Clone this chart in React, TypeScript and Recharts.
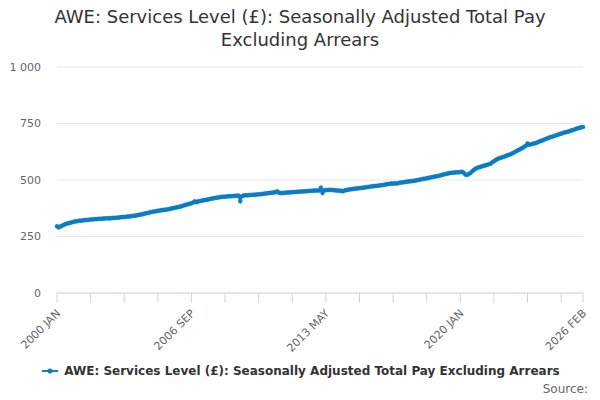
import React from 'react';
import { LineChart, Line, XAxis, YAxis, CartesianGrid } from 'recharts';

const MONTHS = ['JAN', 'FEB', 'MAR', 'APR', 'MAY', 'JUN', 'JUL', 'AUG', 'SEP', 'OCT', 'NOV', 'DEC'];
const FIRST_YEAR = 2000;

// monthly levels (£)
const pay2000 = [295, 290, 294, 298, 301, 305, 307, 309, 311, 313, 315, 317];
const pay2001 = [318, 320, 320, 321, 322, 323, 323, 324, 325, 325, 326, 327];
const pay2002 = [327, 328, 328, 329, 330, 330, 331, 330, 331, 332, 332, 333];
const pay2003 = [333, 334, 335, 336, 336, 337, 338, 339, 340, 341, 342, 343];
const pay2004 = [344, 346, 347, 349, 351, 353, 354, 356, 358, 359, 361, 362];
const pay2005 = [364, 364, 366, 367, 368, 369, 370, 372, 374, 375, 377, 378];
const pay2006 = [380, 382, 384, 386, 389, 391, 393, 395, 397, 400, 406, 402];
const pay2007 = [405, 407, 408, 410, 411, 413, 414, 416, 417, 419, 420, 422];
const pay2008 = [423, 424, 425, 426, 426, 427, 428, 428, 429, 429, 430, 430];
const pay2009 = [431, 406, 428, 431, 432, 432, 433, 434, 434, 435, 435, 436];
const pay2010 = [437, 437, 438, 439, 440, 441, 442, 443, 444, 445, 446, 450];
const pay2011 = [444, 442, 442, 443, 444, 445, 445, 446, 446, 447, 447, 448];
const pay2012 = [448, 449, 449, 450, 450, 451, 451, 452, 452, 453, 453, 453];
const pay2013 = [454, 466, 442, 455, 455, 456, 456, 456, 456, 455, 454, 453];
const pay2014 = [453, 452, 450, 453, 455, 457, 458, 459, 460, 461, 462, 463];
const pay2015 = [464, 465, 466, 467, 468, 469, 470, 471, 472, 473, 474, 475];
const pay2016 = [476, 477, 478, 479, 481, 482, 483, 484, 484, 485, 485, 486];
const pay2017 = [488, 489, 490, 491, 492, 493, 494, 495, 496, 497, 499, 500];
const pay2018 = [502, 503, 505, 506, 508, 509, 511, 512, 514, 515, 517, 518];
const pay2019 = [520, 522, 524, 526, 528, 530, 531, 532, 533, 533, 534, 534];
const pay2020 = [535, 537, 532, 524, 522, 527, 531, 538, 544, 550, 553, 556];
const pay2021 = [558, 561, 563, 565, 567, 570, 572, 578, 583, 588, 592, 596];
const pay2022 = [598, 601, 603, 606, 609, 612, 614, 618, 622, 626, 630, 634];
const pay2023 = [638, 642, 647, 651, 662, 656, 658, 660, 662, 664, 667, 670];
const pay2024 = [673, 676, 679, 682, 685, 688, 690, 692, 695, 698, 700, 703];
const pay2025 = [705, 708, 710, 712, 714, 716, 719, 721, 724, 727, 729, 731];
const pay2026 = [733, 735];

const payByYear = [
  pay2000, pay2001, pay2002, pay2003, pay2004, pay2005, pay2006, pay2007, pay2008,
  pay2009, pay2010, pay2011, pay2012, pay2013, pay2014, pay2015, pay2016, pay2017,
  pay2018, pay2019, pay2020, pay2021, pay2022, pay2023, pay2024, pay2025, pay2026,
];

const yTicks = [0, 250, 500, 750, 1000];
const tickMonths = [0, 20, 40, 60, 80, 100, 120, 140, 160, 180, 200, 220, 240, 260, 280, 300, 313];
const labelledMonths = [0, 80, 160, 240, 313];

const SERIES_NAME = 'AWE: Services Level (£): Seasonally Adjusted Total Pay Excluding Arrears';
const COLOR = '#0b7dc3';

const data = payByYear.flat().map((value, i) => ({ i, value }));
const lastMonth = data.length - 1;

const monthLabel = (i: number) => `${FIRST_YEAR + Math.floor(i / 12)} ${MONTHS[i % 12]}`;

const MonthTick = (props: any) => {
  const { x, y, payload } = props;
  if (!labelledMonths.includes(payload.value)) return null;
  const tx = x + 4;
  const ty = y + 11;
  return (
    <text x={tx} y={ty} textAnchor="end" fontSize={11} fill="#666666" transform={`rotate(-45 ${tx} ${ty})`}>
      {monthLabel(payload.value)}
    </text>
  );
};

const App = () => {
  return (
    <div
      style={{
        position: 'absolute',
        left: 0,
        top: 0,
        width: 600,
        height: 400,
        background: '#ffffff',
        fontFamily: '"DejaVu Sans", sans-serif',
      }}
    >
      <div
        style={{
          position: 'absolute',
          top: 5,
          width: 600,
          textAlign: 'center',
          fontSize: 18,
          lineHeight: '23px',
          color: '#333333',
        }}
      >
        AWE: Services Level (£): Seasonally Adjusted Total Pay
        <br />
        Excluding Arrears
      </div>

      <LineChart width={600} height={400} data={data} margin={{ top: 67, right: 17, bottom: 0, left: 0 }}>
        <CartesianGrid vertical={false} stroke="#e6e6e6" />
        <XAxis
          dataKey="i"
          type="number"
          domain={[0, lastMonth]}
          ticks={tickMonths}
          height={107}
          tickSize={10}
          tickMargin={0}
          stroke="#ccd6eb"
          tick={<MonthTick />}
          interval={0}
        />
        <YAxis
          domain={[0, 1000]}
          ticks={yTicks}
          width={57}
          axisLine={false}
          tickLine={false}
          tickSize={6}
          tickMargin={10}
          tick={{ fill: '#666666', fontSize: 11 }}
          tickFormatter={(v: number) => (v === 1000 ? '1 000' : String(v))}
        />
        <Line
          type="linear"
          dataKey="value"
          name={SERIES_NAME}
          stroke={COLOR}
          strokeWidth={2}
          dot={{ r: 2, fill: COLOR, stroke: COLOR, strokeWidth: 0.5 }}
          isAnimationActive={false}
        />
      </LineChart>

      <div
        style={{
          position: 'absolute',
          top: 364,
          width: 600,
          display: 'flex',
          justifyContent: 'center',
          alignItems: 'center',
        }}
      >
        <svg width={20} height={12} style={{ marginRight: 4 }}>
          <line x1={2} y1={6} x2={18} y2={6} stroke={COLOR} strokeWidth={2} />
          <circle cx={10} cy={6} r={2.5} fill={COLOR} />
        </svg>
        <span style={{ fontSize: 12, fontWeight: 'bold', color: '#333333' }}>{SERIES_NAME}</span>
      </div>

      <div style={{ position: 'absolute', top: 382, right: 12, fontSize: 12, color: '#666666' }}>Source:</div>
    </div>
  );
};

export default App;
